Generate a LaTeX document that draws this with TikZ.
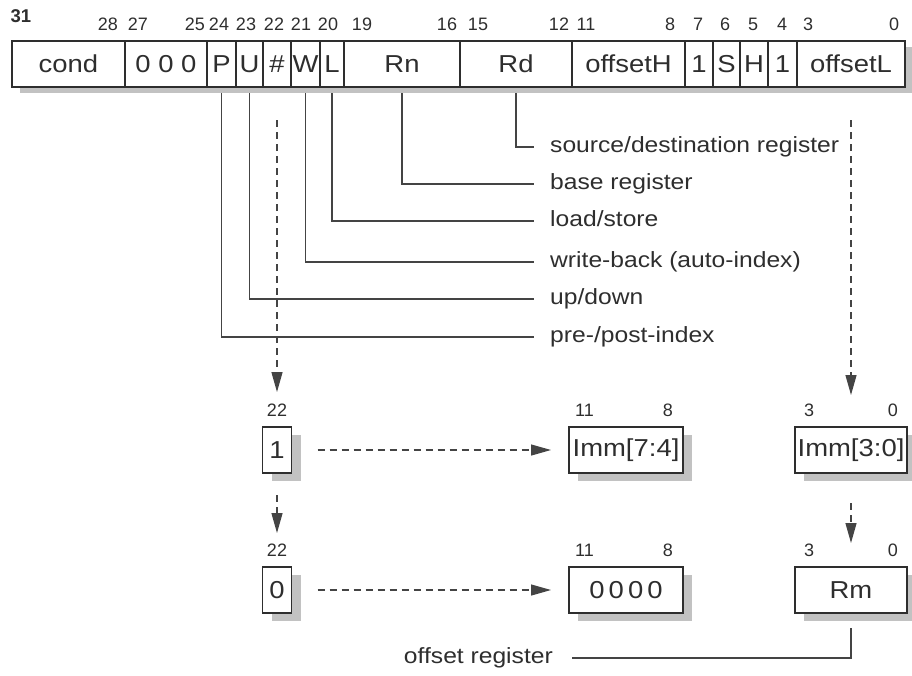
\documentclass[tikz,border=0pt]{standalone}
\usepackage{fontspec}
\setmainfont{Liberation Sans}[FakeStretch=1.12]
\newfontfamily\numfont{Liberation Sans}
\usetikzlibrary{positioning,arrows.meta,shadows}
\definecolor{ink}{HTML}{2E2E2E}
\definecolor{wire}{HTML}{444444}
\definecolor{shade}{HTML}{C2C2C2}

\begin{document}
\begin{tikzpicture}[x=1pt,y=-1pt,
  boxbase/.style={draw=ink,line width=1.5pt,fill=white,text=ink,inner sep=0pt,outer sep=0pt,
    minimum height=46pt,font=\fontsize{24.5}{24.5}\selectfont},
  field/.style={boxbase,drop shadow={shadow xshift=8pt,shadow yshift=-6pt,fill=shade,opacity=1}},
  reg/.style={boxbase,drop shadow={shadow xshift=9pt,shadow yshift=-8pt,fill=shade,opacity=1}},
  bitno/.style={text=ink,inner sep=0pt,font=\numfont\fontsize{18}{18}\selectfont},
  lbl/.style={text=ink,inner sep=0pt,anchor=west,text height=16pt,text depth=5pt,
    font=\fontsize{22}{22}\selectfont},
  lead/.style={draw=wire,line width=1.2pt},
  dashline/.style={draw=wire,line width=1.2pt,dash pattern=on 7pt off 5pt},
  tip/.style={-{Triangle[length=20pt,width=11pt]}}]
\useasboundingbox (0,0) rectangle (912,675);

% instruction word
\node[field,minimum width=113pt,anchor=west] (cond) at (12,64) {cond};
\node[field,minimum width=82pt,right=0pt of cond] (zeros) {0 0 0};
\node[field,minimum width=29pt,right=0pt of zeros] (P) {P};
\node[field,minimum width=27pt,right=0pt of P] (U) {U};
\node[field,minimum width=28pt,right=0pt of U] (imm) {\#};
\node[field,minimum width=29pt,right=0pt of imm] (W) {W};
\node[field,minimum width=24pt,right=0pt of W] (L) {L};
\node[field,minimum width=116pt,right=0pt of L] (Rn) {Rn};
\node[field,minimum width=112pt,right=0pt of Rn] (Rd) {Rd};
\node[field,minimum width=113pt,right=0pt of Rd] (offH) {offsetH};
\node[field,minimum width=28pt,right=0pt of offH] (oneA) {1};
\node[field,minimum width=27pt,right=0pt of oneA] (S) {S};
\node[field,minimum width=28pt,right=0pt of S] (H) {H};
\node[field,minimum width=29pt,right=0pt of H] (oneB) {1};
\node[field,minimum width=108pt,right=0pt of oneB] (offL) {offsetL};

\node[bitno,font=\numfont\fontsize{18.5}{18.5}\selectfont\bfseries] (bit31) at (21,16) {31};
\foreach \x/\b in {108/28,138/27,195/25,219/24,246/23,274/22,301/21,328/20,362/19,447/16,
                   478/15,559/12,586/11,670/8,698/7,725/6,753/5,782/4,808/3,894/0}
  \node[bitno] (bit\b) at (\x,24) {\b};

% field names
\node[lbl] (srcdst) at (550,147) {source/destination register};
\node[lbl] (basereg) at (550,184) {base register};
\node[lbl] (ldst) at (550,221) {load/store};
\node[lbl] (wback) at (550,262) {write-back (auto-index)};
\node[lbl] (updown) at (550,299) {up/down};
\node[lbl] (prepost) at (550,337) {pre-/post-index};

\draw[lead] ([yshift=-6pt]Rd.south) |- ([xshift=-16pt]srcdst.west);
\draw[lead] ([yshift=-6pt]Rn.south) |- ([xshift=-16pt]basereg.west);
\draw[lead] ([yshift=-6pt]L.south) |- ([xshift=-16pt]ldst.west);
\draw[lead] ([yshift=-6pt]W.south) |- ([xshift=-16pt]wback.west);
\draw[lead] ([yshift=-6pt]U.south) |- ([xshift=-16pt]updown.west);
\draw[lead] ([yshift=-6pt]P.south) |- ([xshift=-16pt]prepost.west);

% immediate / register offset
\coordinate (rowA) at (0,450);
\coordinate (rowB) at (0,590);
\node[reg,minimum width=29pt] (one) at (imm |- rowA) {1};
\node[reg,minimum width=114pt] (immHi) at (626,450) {Imm[7:4]};
\node[reg,minimum width=112pt] (immLo) at (offL |- rowA) {Imm[3:0]};
\node[reg,minimum width=29pt] (zero) at (imm |- rowB) {0};
\node[reg,minimum width=114pt] (zeroHi) at (626,590) {0\,0\,0\,0};
\node[reg,minimum width=112pt] (Rm) at (offL |- rowB) {Rm};

\node[bitno,above=10pt of one] (hashA) {22};
\node[bitno,anchor=south west] (hiA) at ([shift={(6pt,10pt)}]immHi.north west) {11};
\node[bitno,anchor=south east] (loA) at ([shift={(-10pt,10pt)}]immHi.north east) {8};
\node[bitno,anchor=south west] (hiB) at ([shift={(9pt,10pt)}]immLo.north west) {3};
\node[bitno,anchor=south east] (loB) at ([shift={(-9pt,10pt)}]immLo.north east) {0};
\node[bitno,above=10pt of zero] (hashB) {22};
\node[bitno,anchor=south west] (hiC) at ([shift={(6pt,10pt)}]zeroHi.north west) {11};
\node[bitno,anchor=south east] (loC) at ([shift={(-10pt,10pt)}]zeroHi.north east) {8};
\node[bitno,anchor=south west] (hiD) at ([shift={(9pt,10pt)}]Rm.north west) {3};
\node[bitno,anchor=south east] (loD) at ([shift={(-9pt,10pt)}]Rm.north east) {0};

\draw[dashline,tip] ([yshift=-33pt]imm.south) -- ([yshift=12pt]hashA.north);
\draw[dashline,tip] ([yshift=-33pt]offL.south) -- ([yshift=32pt]immLo.north);
\draw[dashline,tip] ([yshift=-22pt]one.south) -- ([yshift=11pt]hashB.north);
\draw[dashline,tip] ([yshift=-30pt]immLo.south) -- ([yshift=24pt]Rm.north);
\draw[dashline,tip,shorten <=26pt,shorten >=18pt] (one) -- (immHi);
\draw[dashline,tip,shorten <=26pt,shorten >=18pt] (zero) -- (zeroHi);

\node[lbl,anchor=east] (offreg) at (553,658) {offset register};
\draw[lead] ([yshift=-15pt]Rm.south) |- ([xshift=19pt]offreg.east);
\end{tikzpicture}
\end{document}
